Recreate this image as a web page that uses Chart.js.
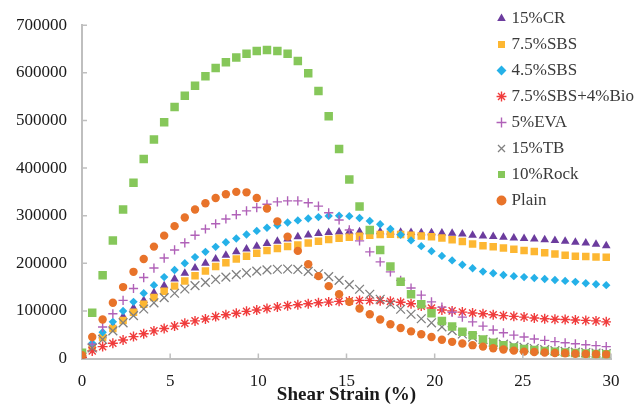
<!DOCTYPE html>
<html>
<head>
<meta charset="utf-8">
<script src="https://cdn.jsdelivr.net/npm/chart.js@4/dist/chart.umd.min.js"></script>
<style>
  html, body { margin: 0; padding: 0; background: #fff; }
  canvas { display: block; }
</style>
</head>
<body>
<canvas id="chart" width="639" height="406"></canvas>
<script>
// shear strain (%) shared by every series
const strain = [0, 0.58, 1.17, 1.75, 2.33, 2.92, 3.50, 4.08, 4.66, 5.25, 5.83, 6.41, 7.00, 7.58, 8.16, 8.75,
  9.33, 9.91, 10.49, 11.08, 11.66, 12.24, 12.83, 13.41, 13.99, 14.58, 15.16, 15.74, 16.32, 16.91, 17.49,
  18.07, 18.66, 19.24, 19.82, 20.41, 20.99, 21.57, 22.15, 22.74, 23.32, 23.90, 24.49, 25.07, 25.65, 26.24,
  26.82, 27.40, 27.98, 28.57, 29.15, 29.73];

const cr15 = [3000, 28000, 48000, 68000, 88000, 106000, 122000, 138000, 153000, 167000, 179000, 190000, 200000,
  209000, 217000, 224000, 230000, 236000, 241500, 246000, 251000, 255500, 259500, 262500, 264500, 265500, 266000,
  266000, 266000, 266000, 265500, 265000, 264500, 264000, 264000, 263500, 263000, 261500, 259000, 257500, 256000,
  254500, 253000, 252000, 251000, 249500, 248000, 246500, 244000, 242500, 240000, 237000];
const sbs75 = [3000, 25000, 44000, 63000, 80000, 97000, 114000, 128000, 141000, 152000, 163000, 174000, 184000,
  193000, 201000, 209000, 215000, 221000, 227000, 231000, 235000, 238500, 242500, 246500, 250000, 252500, 254500,
  257000, 259000, 260500, 261000, 260500, 259000, 257500, 255500, 253000, 249500, 245500, 240500, 237000, 234500,
  232000, 229500, 227000, 224500, 222000, 219500, 217000, 215000, 214000, 213000, 212500];
const sbs45 = [5000, 32000, 55000, 77000, 99700, 119000, 137000, 154000, 171000, 186000, 200000, 213000, 224000,
  234500, 244000, 252000, 260500, 268000, 274500, 280000, 285500, 290000, 294000, 297000, 299500, 300000, 299000,
  295000, 289000, 282000, 272000, 260000, 248000, 236000, 225500, 215500, 206000, 197000, 189500, 182500, 179000,
  175500, 173000, 171000, 169000, 167000, 165000, 163000, 161000, 158000, 156000, 154000];
const sbsBio = [2000, 16000, 25000, 32000, 39000, 46000, 52000, 58000, 63000, 68000, 74000, 79000, 83000, 88000,
  92000, 95000, 99000, 102000, 105000, 108000, 111000, 113000, 115000, 117000, 118500, 120000, 121000, 122000,
  122000, 121500, 120000, 118000, 115000, 110000, 106000, 102000, 100000, 97500, 95500, 94000, 92000, 90000,
  88500, 87000, 85000, 83500, 82500, 82000, 81000, 80000, 79000, 77000];
const eva5 = [5000, 30000, 66000, 94000, 122000, 147000, 170000, 190000, 211000, 228000, 243000, 259000, 272000,
  283000, 293000, 302000, 310000, 317000, 324000, 329000, 331000, 331000, 327000, 320000, 306000, 291000, 270000,
  247000, 224000, 203000, 182000, 164000, 148000, 133000, 119000, 108000, 97000, 87000, 77000, 68000, 60000,
  54000, 49000, 45000, 41000, 38000, 35500, 33000, 31000, 29000, 27000, 25000];
const tb15 = [3000, 22000, 40000, 58000, 75000, 90000, 104000, 117000, 128000, 137000, 146000, 153000, 160000,
  166000, 171000, 176000, 180000, 183500, 186000, 187500, 188000, 187000, 183000, 178000, 172000, 164000, 155000,
  145500, 135000, 124500, 114000, 103500, 93000, 83500, 75000, 66500, 58500, 51500, 45000, 39500, 34500, 30000,
  26500, 23500, 21000, 18500, 16500, 15000, 13500, 12500, 11500, 10500];
const rock10 = [12000, 96000, 175000, 248000, 313000, 369000, 419000, 460000, 496000, 528000, 552000, 573000,
  593000, 610000, 622000, 632000, 640000, 646000, 648000, 646000, 640000, 625000, 599000, 562000, 509000, 440000,
  376000, 319000, 270000, 228000, 193000, 161000, 135000, 114000, 95000, 79000, 67000, 56000, 49000, 40000, 33000,
  28000, 23000, 20000, 18000, 16000, 14000, 12500, 11500, 10500, 9500, 9000];
const plain = [7000, 45000, 82000, 117000, 150000, 182000, 209000, 235000, 258000, 278000, 296000, 313000, 326000,
  337000, 345000, 350000, 349000, 337000, 315000, 288000, 256000, 226000, 198000, 173000, 152000, 135000, 119000,
  105000, 93000, 82000, 72000, 64000, 57000, 51000, 45000, 39500, 35000, 31500, 28000, 25000, 21500, 19000, 16500,
  14500, 13500, 12500, 11500, 11000, 10000, 9500, 9000, 8500];

const xTicks = [0, 5, 10, 15, 20, 25, 30];
const yTicks = [0, 100000, 200000, 300000, 400000, 500000, 600000, 700000];

const series = [
  { label: '15%CR', values: cr15, style: 'triangle', color: '#6c3c9e', r: 5, bw: 0 },
  { label: '7.5%SBS', values: sbs75, style: 'rect', color: '#fdb732', r: 5.3, bw: 0 },
  { label: '4.5%SBS', values: sbs45, style: 'rectRot', color: '#25b1e8', r: 4.2, bw: 0 },
  { label: '7.5%SBS+4%Bio', values: sbsBio, style: 'star', color: '#f03c3c', r: 5, bw: 1.4 },
  { label: '5%EVA', values: eva5, style: 'cross', color: '#b061b8', r: 4.6, bw: 1.4 },
  { label: '15%TB', values: tb15, style: 'crossRot', color: '#808080', r: 6.2, bw: 1.3 },
  { label: '10%Rock', values: rock10, style: 'rect', color: '#86c75a', r: 6, bw: 0 },
  { label: 'Plain', values: plain, style: 'circle', color: '#e8732a', r: 4.2, bw: 0 }
];

Chart.defaults.font.family = "'Liberation Serif', 'Times New Roman', serif";
Chart.defaults.color = '#1a1a1a';

// short tick marks pointing into the plot, like the original
const innerTicks = {
  id: 'innerTicks',
  afterDatasetsDraw(chart) {
    const { ctx, chartArea, scales: { x, y } } = chart;
    ctx.save();
    ctx.strokeStyle = '#bfbfbf';
    ctx.lineWidth = 1.5;
    ctx.beginPath();
    xTicks.slice(1).forEach(v => {
      const px = x.getPixelForValue(v);
      ctx.moveTo(px, chartArea.bottom);
      ctx.lineTo(px, chartArea.bottom - 5);
    });
    yTicks.slice(1).forEach(v => {
      const py = y.getPixelForValue(v);
      ctx.moveTo(chartArea.left, py);
      ctx.lineTo(chartArea.left + 5, py);
    });
    ctx.stroke();
    ctx.restore();
  }
};

// put the legend inside the plot, top right
const legendSpot = {
  id: 'legendSpot',
  afterLayout(chart) {
    const lg = chart.legend;
    const w = lg.width, h = lg.height;
    lg.left = 491; lg.right = lg.left + w;
    lg.top = 1; lg.bottom = lg.top + h;
  }
};

new Chart(document.getElementById('chart'), {
  type: 'scatter',
  data: {
    datasets: series.map((s, i) => ({
      label: s.label,
      data: strain.map((x, k) => ({ x: x, y: s.values[k] })),
      pointStyle: s.style,
      pointRadius: s.r,
      backgroundColor: s.color,
      borderColor: s.color,
      pointBorderWidth: s.bw,
      borderWidth: s.bw,
      order: series.length - 1 - i
    }))
  },
  options: {
    responsive: false,
    animation: false,
    layout: { padding: { top: 25, right: 28, left: 0, bottom: 0 } },
    plugins: {
      tooltip: { enabled: false },
      legend: {
        position: 'chartArea',
        align: 'start',
        labels: {
          usePointStyle: true,
          boxWidth: 3,
          boxHeight: 7,
          padding: 9,
          color: '#3a3a3a',
          font: { size: 17 },
          sort: (a, b) => a.datasetIndex - b.datasetIndex
        }
      }
    },
    scales: {
      x: {
        type: 'linear',
        min: 0, max: 30,
        afterBuildTicks: s => { s.ticks = xTicks.map(v => ({ value: v })); },
        afterFit: s => { s.height = 47.5; },
        grid: { display: false, drawTicks: false },
        border: { color: '#bfbfbf', width: 2 },
        ticks: { font: { size: 17 }, padding: 13, maxRotation: 0 },
        title: {
          display: true,
          text: 'Shear Strain (%)',
          font: { size: 19, weight: 'bold' },
          color: '#1a1a1a',
          padding: { top: 0, bottom: 0 }
        }
      },
      y: {
        type: 'linear',
        min: 0, max: 700000,
        afterBuildTicks: s => { s.ticks = yTicks.map(v => ({ value: v })); },
        afterFit: s => { s.width = 82; },
        grid: { display: false, drawTicks: false },
        border: { color: '#bfbfbf', width: 2 },
        ticks: { font: { size: 17 }, padding: 15, callback: v => String(v) }
      }
    }
  },
  plugins: [innerTicks, legendSpot]
});
</script>
</body>
</html>
